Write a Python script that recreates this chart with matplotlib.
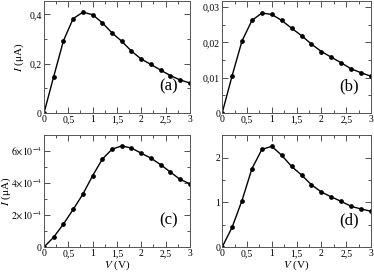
import matplotlib
matplotlib.use('Agg')
import matplotlib.pyplot as plt
from matplotlib.ticker import MultipleLocator, FuncFormatter

plt.rcParams['font.family'] = ['Liberation Serif', 'DejaVu Serif']
plt.rcParams['mathtext.fontset'] = 'stix'

# Tensão (V), passo 0,2
V = [0.0, 0.2, 0.4, 0.6, 0.8, 1.0, 1.2, 1.4, 1.6, 1.8, 2.0, 2.2, 2.4, 2.6, 2.8, 3.0]

I_a = [0.0, 0.148, 0.293, 0.383, 0.409, 0.399, 0.366, 0.325, 0.291, 0.251,
       0.219, 0.197, 0.174, 0.152, 0.134, 0.122]
I_b = [0.0, 0.0105, 0.0204, 0.0262, 0.0283, 0.0279, 0.0262, 0.0240, 0.0219, 0.0195,
       0.0174, 0.0158, 0.0142, 0.0125, 0.0114, 0.0104]
I_c = [0.0, 0.62e-4, 1.44e-4, 2.35e-4, 3.31e-4, 4.46e-4, 5.50e-4, 6.12e-4, 6.33e-4,
       6.19e-4, 5.87e-4, 5.56e-4, 5.15e-4, 4.69e-4, 4.23e-4, 3.96e-4]
I_d = [0.0, 0.44, 1.04, 1.75, 2.18, 2.25, 2.05, 1.80, 1.61, 1.39,
       1.23, 1.12, 1.02, 0.91, 0.85, 0.80]

panel_labels = ['(a)', '(b)', '(c)', '(d)']


def fmt_comma(x, pos):
    s = f'{x:g}'
    return s.replace('.', ',')


def fmt_sci(x, pos):
    if abs(x) < 1e-12:
        return '0'
    m = round(x / 1e-4)
    return f'${m}{{\\times}}10^{{-4}}$'


fig = plt.figure(figsize=(3.74, 2.73), dpi=100)

boxes = [
    [0.1176, 0.586, 0.390, 0.409],
    [0.594, 0.586, 0.398, 0.409],
    [0.1176, 0.095, 0.390, 0.410],
    [0.594, 0.095, 0.398, 0.410],
]
data = [I_a, I_b, I_c, I_d]
ylims = [0.453, 0.0316, 7.0e-4, 2.5]
ymaj = [0.2, 0.01, 2e-4, 1.0]
ymin = [0.1, 0.005, 1e-4, 0.5]
ylab_x = {0: -0.125, 2: -0.215}

for k in range(4):
    ax = fig.add_axes(boxes[k])
    ax.plot(V, data[k], '-o', color='black', linewidth=1.0, markersize=2.4)
    ax.set_xlim(0, 3)
    ax.set_ylim(0, ylims[k])
    ax.xaxis.set_major_locator(MultipleLocator(0.5))
    ax.xaxis.set_minor_locator(MultipleLocator(0.25))
    ax.yaxis.set_major_locator(MultipleLocator(ymaj[k]))
    ax.yaxis.set_minor_locator(MultipleLocator(ymin[k]))
    ax.xaxis.set_major_formatter(FuncFormatter(fmt_comma))
    if k == 2:
        ax.yaxis.set_major_formatter(FuncFormatter(fmt_sci))
    else:
        ax.yaxis.set_major_formatter(FuncFormatter(fmt_comma))
    ax.tick_params(which='both', direction='in', top=True, right=True,
                   labelsize=7, pad=1.5, width=0.6, colors='#333333',
                   labelcolor='black')
    ax.tick_params(which='major', length=4)
    ax.tick_params(which='minor', length=2.2)
    for sp in ax.spines.values():
        sp.set_linewidth(0.7)
        sp.set_color('#555555')
    if k in (0, 2):
        ax.set_ylabel('$I$ (μA)', fontsize=8)
        ax.yaxis.set_label_coords(ylab_x[k], 0.5)
    if k in (2, 3):
        ax.set_xlabel('$V$ (V)', fontsize=8, labelpad=0)
    ax.text(0.855, 0.235, panel_labels[k], transform=ax.transAxes,
            fontsize=12, ha='center', va='center')

plt.savefig('out.png', dpi=100)
